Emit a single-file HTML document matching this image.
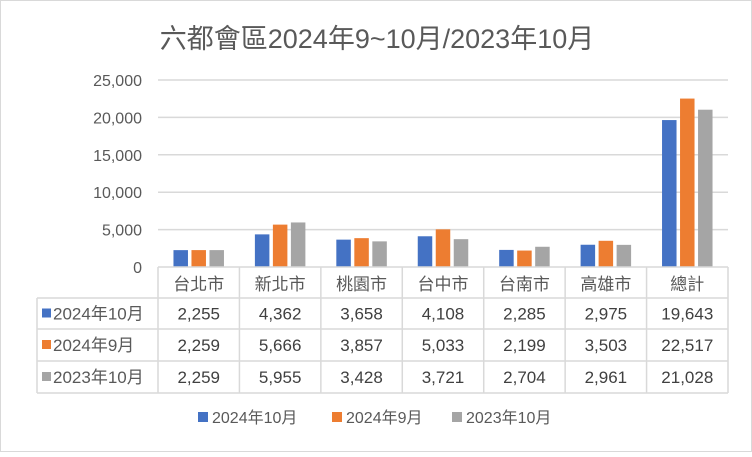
<!DOCTYPE html>
<html><head><meta charset="utf-8"><style>
body{margin:0;background:#fff}
svg text{font-family:"Liberation Sans","Noto Sans CJK TC",sans-serif}
</style></head><body>
<svg width="752" height="452" xmlns="http://www.w3.org/2000/svg">
<rect x="0.5" y="0.5" width="751" height="451" fill="#fff" stroke="#d9d9d9"/>
<text x="377" y="48" font-size="27" fill="#595959" text-anchor="middle">六都會區2024年9~10月/2023年10月</text>
<g id="g"></g>
</svg>
<script>
const categories=["台北市","新北市","桃園市","台中市","台南市","高雄市","總計"];
const seriesNames=["2024年10月","2024年9月","2023年10月"];
const s1=[2255,4362,3658,4108,2285,2975,19643];
const s2=[2259,5666,3857,5033,2199,3503,22517];
const s3=[2259,5955,3428,3721,2704,2961,21028];
const yTicks=[0,5000,10000,15000,20000,25000];
const series=[s1,s2,s3];
const colors=["#4472c4","#ed7d31","#a5a5a5"];
const NS="http://www.w3.org/2000/svg";
const g=document.getElementById('g');
const x0=158,x1=728,y0=267,yTop=80,yMax=25000;
const cw=(x1-x0)/categories.length;
const y=v=>y0-(v/yMax)*(y0-yTop);
function el(t,a,txt){const e=document.createElementNS(NS,t);for(const k in a)e.setAttribute(k,a[k]);if(txt!==undefined)e.textContent=txt;g.appendChild(e);return e;}
const fmt=v=>v.toLocaleString('en-US');
yTicks.forEach(t=>{
 if(t>0){const l=el('line',{x1:x0,x2:x1,y1:y(t),y2:y(t),stroke:'#d9d9d9','stroke-width':1.5});
 
 }
 const tx=el('text',{x:142,y:y(t)+6,'font-size':16,fill:'#595959','text-anchor':'end'},fmt(t));
 
 
});
const bw=14.5,gap=3.5;
series.forEach((s,si)=>{
 s.forEach((v,ci)=>{
  const cx=x0+cw*(ci+0.5);
  const bx=cx-bw/2+(si-1)*(bw+gap);
  const r=el('rect',{x:bx,y:y(v),width:bw,height:y0-y(v),fill:colors[si]});
  
  
 });
});
const rows=[267,298,329,361,393];
const tl=37;
const lc='#d9d9d9';
[x0].concat(categories.map((c,i)=>x0+cw*(i+1))).forEach((xx,i)=>{
 const l=el('line',{x1:xx,x2:xx,y1:y0,y2:393,stroke:lc,'stroke-width':1.5});
 
 
});
const lv=el('line',{x1:tl,x2:tl,y1:298,y2:393,stroke:lc,'stroke-width':1.5});


rows.forEach((ry,i)=>{
 const l=el('line',{x1:i==0?x0:tl,x2:x1,y1:ry,y2:ry,stroke:lc,'stroke-width':1.5});
 
 
});
categories.forEach((c,i)=>{
 const t=el('text',{x:x0+cw*(i+0.5),y:290,'font-size':17,fill:'#595959','text-anchor':'middle'},c);
 
 
});
series.forEach((s,si)=>{
 const cy=(rows[si+1]+rows[si+2])/2+6;
 const k=el('rect',{x:42,y:cy-11,width:9,height:9,fill:colors[si]});
 
 
 const n=el('text',{x:53,y:cy,'font-size':17,fill:'#595959'},seriesNames[si]);
 
 
 s.forEach((v,ci)=>{
  const t=el('text',{x:x0+cw*(ci+0.5),y:cy,'font-size':17,fill:'#404040','text-anchor':'middle'},fmt(v));
  
  
 });
});
const lx=[198,332,452];
seriesNames.forEach((n,i)=>{
 const r=el('rect',{x:lx[i],y:412,width:10,height:10,fill:colors[i]});
 
 
 const t=el('text',{x:lx[i]+14,y:423,'font-size':16,fill:'#595959'},n);
 
 
});
</script>
</body></html>
